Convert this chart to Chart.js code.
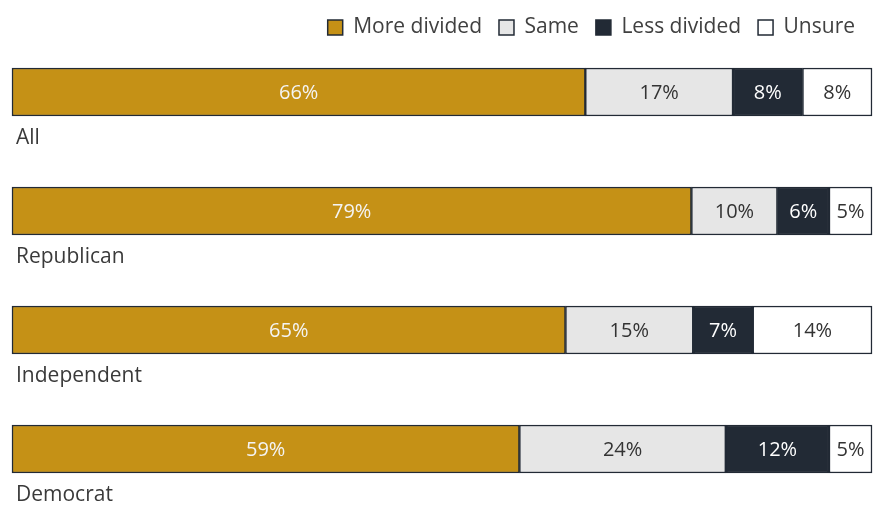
<!DOCTYPE html>
<html>
<head>
<meta charset="utf-8">
<script src="https://cdn.jsdelivr.net/npm/chart.js@4.4.0/dist/chart.umd.min.js"></script>
<style>
  html, body { margin: 0; padding: 0; background: #fff; }
</style>
</head>
<body>
<canvas id="c" width="885" height="512"></canvas>
<script>
/* ---- data ---- */
const groups      = ['All', 'Republican', 'Independent', 'Democrat'];
const seriesNames = ['More divided', 'Same', 'Less divided', 'Unsure'];
const moreDivided = [66, 79, 65, 59];
const same        = [17, 10, 15, 24];
const lessDivided = [8, 6, 7, 12];
const unsure      = [8, 5, 14, 5];

const raw     = [moreDivided, same, lessDivided, unsure];
const fills   = ['#C59116', '#E6E6E6', '#222A35', '#FFFFFF'];
const inkCols = ['#F4F4F4', '#333333', '#FFFFFF', '#333333'];
const FONT    = '"Open Sans", sans-serif';

/* each row is drawn as share of its own total (bars all end at the same edge) */
const rowTot = groups.map((g, i) => raw.reduce((s, a) => s + a[i], 0));
const share  = a => a.map((v, i) => v / rowTot[i] * 100);

/* ---- labels in the segments + group names under the bars ---- */
const barText = {
  id: 'barText',
  afterDatasetsDraw(chart) {
    const ctx = chart.ctx;
    ctx.save();
    ctx.font = '20px ' + FONT;
    ctx.textAlign = 'center';
    ctx.textBaseline = 'middle';
    chart.data.datasets.forEach((ds, di) => {
      chart.getDatasetMeta(di).data.forEach((bar, i) => {
        const p = bar.getProps(['x', 'y', 'base'], true);
        ctx.fillStyle = inkCols[di];
        ctx.fillText(raw[di][i] + '%', (p.x + p.base) / 2, p.y + 1);
      });
    });
    ctx.font = '21px ' + FONT;
    ctx.textAlign = 'left';
    ctx.fillStyle = '#3A3A3A';
    const ys = chart.scales.y;
    groups.forEach((g, i) => {
      ctx.fillText(g, chart.chartArea.left + 4, ys.getPixelForValue(i) + 24 + 22);
    });
    ctx.restore();
  }
};

new Chart(document.getElementById('c'), {
  type: 'bar',
  data: {
    labels: groups,
    datasets: raw.map((a, k) => ({
      label: seriesNames[k],
      data: share(a),
      backgroundColor: fills[k],
      borderColor: '#222A35',
      borderWidth: 1.5,
      borderSkipped: false,
      barThickness: 48,
      clip: false
    }))
  },
  plugins: [barText],
  options: {
    indexAxis: 'y',
    responsive: false,
    animation: false,
    devicePixelRatio: 1,
    layout: { padding: { left: 12, right: 13, top: 0, bottom: 63 } },
    scales: {
      x: {
        stacked: true, min: 0, max: 100, position: 'top',
        ticks: { display: false }, grid: { display: false }, border: { display: false },
        afterFit(s) { s.height = 44; }
      },
      y: { stacked: true, offset: false, display: false }
    },
    plugins: {
      legend: {
        position: 'top', align: 'end',
        labels: { boxWidth: 15, boxHeight: 15, padding: 17, color: '#404040',
                  font: { family: FONT, size: 21 } }
      },
      tooltip: { enabled: false }
    }
  }
});
</script>
</body>
</html>
